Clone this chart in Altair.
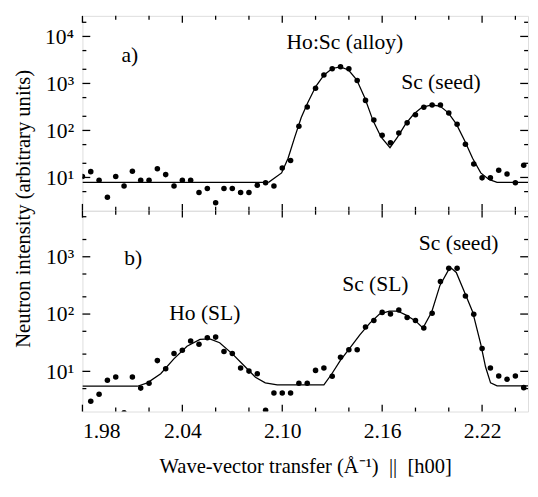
import altair as alt
import pandas as pd

FONT = "Liberation Serif"

# ---------------- panel a) data ----------------
a_pts_x = [1.980, 1.985, 1.990, 1.995, 2.000, 2.005, 2.010, 2.015, 2.020, 2.025,
           2.030, 2.035, 2.040, 2.045, 2.050, 2.055, 2.060, 2.065, 2.070, 2.075,
           2.080, 2.085, 2.090, 2.095, 2.100, 2.105, 2.110, 2.115, 2.120, 2.125,
           2.130, 2.135, 2.140, 2.145, 2.150, 2.155, 2.160, 2.165, 2.170, 2.175,
           2.180, 2.185, 2.190, 2.195, 2.200, 2.205, 2.210, 2.215, 2.220, 2.225,
           2.230, 2.235, 2.240, 2.245]
a_pts_y = [10.5, 13.3, 8.7, 3.8, 10.5, 6.6, 13.5, 8.7, 8.7, 15.4,
           11.5, 6.6, 8.7, 8.7, 4.8, 5.8, 2.9, 5.8, 5.8, 4.8,
           4.8, 6.8, 7.7, 6.6, 15.9, 22.9, 123, 316, 787, 1515,
           2053, 2260, 2053, 1155, 436, 167, 79, 55, 88, 145,
           215, 310, 348, 348, 234, 135, 51, 19.3, 9.8, 9.8,
           14.2, 11.9, 7.7, 18.1]

a_fit_x = [1.980, 2.090, 2.092, 2.0996, 2.1035, 2.1075, 2.1114, 2.1153, 2.1202, 2.1251,
           2.1300, 2.1349, 2.1398, 2.1447, 2.1496, 2.1545, 2.1594, 2.1647, 2.1692, 2.1741,
           2.1790, 2.1839, 2.1898, 2.1947, 2.1996, 2.2045, 2.2094, 2.2143, 2.2192, 2.2241,
           2.2290, 2.2476]
a_fit_y = [7.9, 7.9, 8.0, 12.5, 25.7, 72, 189, 390, 870, 1515,
           2080, 2260, 1930, 1200, 490, 162, 72, 43, 72, 138,
           224, 310, 348, 331, 240, 138, 62, 25.7, 12.5, 9.1,
           7.9, 7.9]

# ---------------- panel b) data ----------------
b_pts_x = [1.985, 1.990, 1.995, 2.000, 2.005, 2.010, 2.015, 2.020, 2.025, 2.030,
           2.035, 2.040, 2.045, 2.050, 2.055, 2.060, 2.065, 2.070, 2.075, 2.080,
           2.085, 2.090, 2.095, 2.100, 2.105, 2.110, 2.115, 2.120, 2.125, 2.130,
           2.135, 2.140, 2.145, 2.150, 2.155, 2.160, 2.165, 2.170, 2.175, 2.180,
           2.185, 2.190, 2.195, 2.200, 2.205, 2.210, 2.215, 2.220, 2.225, 2.230,
           2.235, 2.240, 2.245]
b_pts_y = [3.0, 4.0, 7.0, 8.0, 1.9, 8.0, 5.1, 6.2, 15.4, 11.1,
           20.5, 23.4, 34, 29.7, 38.6, 39.6, 22.2, 20.5, 11.4, 10.1,
           9.1, 2.1, 4.2, 4.2, 4.2, 6.2, 6.2, 10.4, 11.4, 8.2,
           17.6, 23.8, 23.8, 59.6, 77, 107, 100, 118, 87, 77,
           57, 103, 369, 631, 631, 207, 99, 25, 11.4, 8.3,
           7.3, 8.3, 5.2]

b_fit_x = [1.980, 2.013, 2.019, 2.027, 2.0349, 2.0428, 2.0506, 2.0565, 2.0624, 2.0702,
           2.078, 2.0839, 2.0898, 2.097, 2.125, 2.1296, 2.1349, 2.1408, 2.1467, 2.1526,
           2.1584, 2.1643, 2.1692, 2.1741, 2.180, 2.1845, 2.1898, 2.1947, 2.1996, 2.2016,
           2.2045, 2.2094, 2.2143, 2.2192, 2.2221, 2.2251, 2.229, 2.2476]
b_fit_y = [5.5, 5.5, 6.3, 9.1, 16.5, 27.5, 36, 37, 31.6, 20,
           11.8, 7.9, 6.3, 5.8, 5.8, 8.9, 15.5, 26, 43.7, 69.6,
           100, 113, 113, 97, 76, 57, 110, 316, 569, 630,
           532, 243, 110, 30, 11.9, 6.3, 5.6, 5.6]

# ---------------- annotations ----------------
a_lab_text = ["a)", "Ho:Sc (alloy)", "Sc (seed)"]
a_lab_x = [2.0085, 2.1376, 2.1953]
a_lab_y = [4000, 7500, 1050]

b_lab_text = ["b)", "Ho (SL)", "Sc (SL)", "Sc (seed)"]
b_lab_x = [2.0105, 2.0535, 2.1559, 2.2059]
b_lab_y = [960, 102, 332, 1734]

# ---------------- ticks ----------------
x_major = [1.98, 2.04, 2.10, 2.16, 2.22]
x_minor = [2.00, 2.02, 2.06, 2.08, 2.12, 2.14, 2.18, 2.20, 2.24]
a_y_major = [10, 100, 1000, 10000]
a_y_minor = [5, 20, 50, 200, 500, 2000, 5000, 20000]
b_y_major = [10, 100, 1000]
b_y_minor = [5, 20, 50, 200, 500, 2000, 5000]

W = 455
HA = 199
HB = 205
X_DOMAIN = [1.98, 2.2476]
A_DOMAIN = [1.957, 27380]
B_DOMAIN = [1.99, 6350]

Y_LABELS = ("datum.value == 10 ? '10\u00b9' : datum.value == 100 ? '10\u00b2' : "
            "datum.value == 1000 ? '10\u00b3' : '10\u2074'")


def panel(px, py, fx, fy, lt, lx, ly, ydom, ymaj, ymin, h, xaxis):
    xs = alt.Scale(domain=X_DOMAIN, nice=False, zero=False)
    ys = alt.Scale(type="log", domain=ydom, nice=False)
    yaxis = alt.Axis(values=ymaj, labelExpr=Y_LABELS, ticks=False, tickSize=0,
                     domain=False, grid=False, title=None, labelFont=FONT,
                     labelFontSize=22, labelPadding=9, labelColor="black")

    def X(f="x"):
        return alt.X(f"{f}:Q", scale=xs, axis=xaxis)

    def Y(f="y"):
        return alt.Y(f"{f}:Q", scale=ys, axis=yaxis)

    pts = pd.DataFrame({"x": px, "y": py})
    fit = pd.DataFrame({"x": fx, "y": fy})
    labs = pd.DataFrame({"x": lx, "y": ly, "t": lt})

    line = alt.Chart(fit).mark_line(color="black", strokeWidth=1.3, clip=True).encode(x=X(), y=Y())
    dots = alt.Chart(pts).mark_circle(color="black", size=32, opacity=1, clip=True).encode(x=X(), y=Y())
    text = alt.Chart(labs).mark_text(font=FONT, fontSize=22, color="black",
                                     baseline="middle", align="center").encode(x=X(), y=Y(), text="t:N")

    layers = [line, dots, text]
    for vals, ln in ((ymaj, 8), (ymin, 4)):
        d = pd.DataFrame({"v": vals})
        layers.append(alt.Chart(d).mark_rule(color="black", strokeWidth=1.3).encode(
            y=Y("v"), x=alt.value(0), x2=alt.value(ln)))
        layers.append(alt.Chart(d).mark_rule(color="black", strokeWidth=1.3).encode(
            y=Y("v"), x=alt.value(W), x2=alt.value(W - ln)))
    for vals, ln in ((x_major, 7), (x_minor, 4)):
        d = pd.DataFrame({"v": vals})
        layers.append(alt.Chart(d).mark_rule(color="black", strokeWidth=1.3).encode(
            x=X("v"), y=alt.value(0), y2=alt.value(ln)))
        layers.append(alt.Chart(d).mark_rule(color="black", strokeWidth=1.3).encode(
            x=X("v"), y=alt.value(h), y2=alt.value(h - ln)))
    return layers


pa_layers = panel(a_pts_x, a_pts_y, a_fit_x, a_fit_y, a_lab_text, a_lab_x, a_lab_y,
                  A_DOMAIN, a_y_major, a_y_minor, HA, None)

NB = "\u00a0"
xaxis_b = alt.Axis(values=x_major, format=".2f", ticks=False, tickSize=0, domain=False,
                   grid=False, labelFont=FONT, labelFontSize=22, labelPadding=10,
                   labelColor="black",
                   title="Wave-vector transfer (\u00c5\u207b\u00b9)" + NB * 2 + "||" + NB * 2 + "[h00]",
                   titleFont=FONT, titleFontSize=21, titleFontWeight="normal",
                   titlePadding=14, titleColor="black")
pb_layers = panel(b_pts_x, b_pts_y, b_fit_x, b_fit_y, b_lab_text, b_lab_x, b_lab_y,
                  B_DOMAIN, b_y_major, b_y_minor, HB, xaxis_b)

ytitle = alt.Chart(pd.DataFrame({"t": ["Neutron intensity (arbitrary units)"]})).mark_text(
    font=FONT, fontSize=21, color="black", angle=270, baseline="middle", align="center"
).encode(x=alt.value(-60), y=alt.value(-2), text="t:N")

pa = alt.layer(*pa_layers).properties(width=W, height=HA)
pb = alt.layer(*pb_layers, ytitle).properties(width=W, height=HB)

chart = alt.vconcat(pa, pb, spacing=0, bounds="flush").properties(
    padding={"left": 4, "top": 1, "right": 0, "bottom": 4}
).configure_view(stroke="black", strokeWidth=2).configure(font=FONT)

chart.save("out.html", embed_options={"renderer": "svg", "actions": False})
